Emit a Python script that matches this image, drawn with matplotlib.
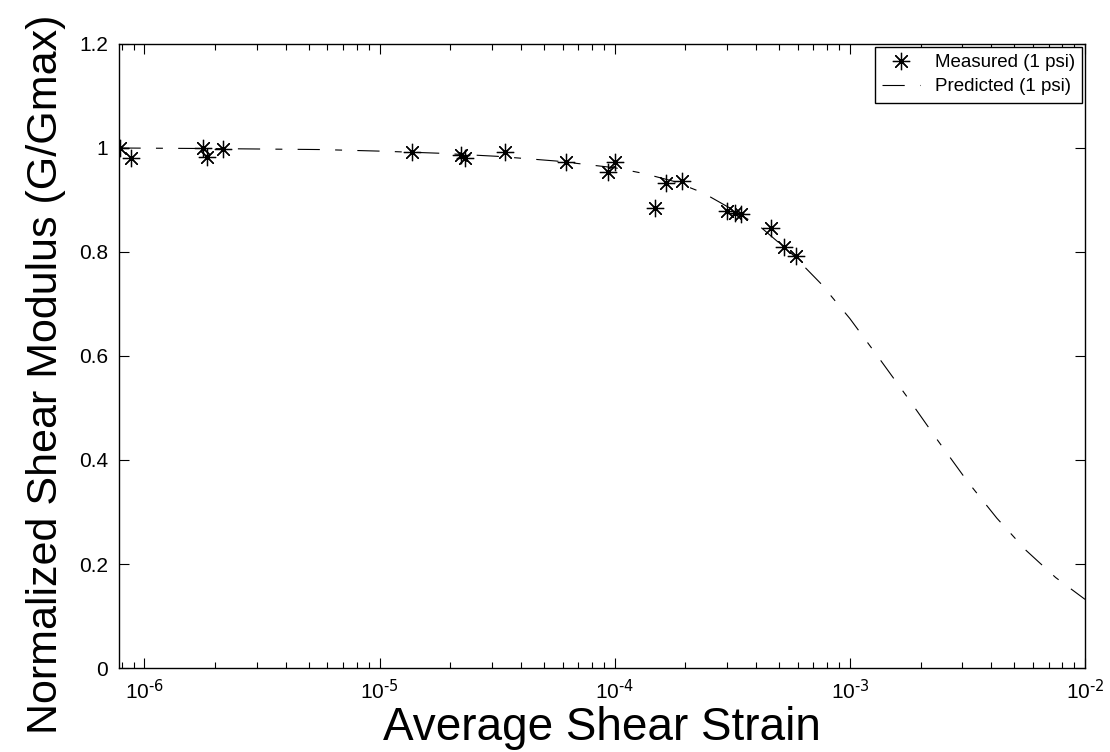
################################################################################
import numpy as np;
import matplotlib as mpl;
mpl.use('Agg');
import matplotlib.pyplot as plt;
from matplotlib.ticker import LogLocator, NullFormatter, FixedLocator;
################################################################################
# measured G/Gmax at 1 psi
meas_strain = [7.9e-7, 8.8e-7, 1.77e-6, 1.85e-6, 2.17e-6, 1.37e-5, 2.23e-5,
               2.30e-5, 3.43e-5, 6.18e-5, 9.4e-5, 1.0e-4, 1.49e-4, 1.66e-4,
               1.93e-4, 3.0e-4, 3.24e-4, 3.44e-4, 4.61e-4, 5.24e-4, 5.89e-4];
meas_ggmax = [1.000, 0.980, 1.000, 0.983, 0.998, 0.992, 0.987,
              0.981, 0.992, 0.973, 0.954, 0.973, 0.885, 0.933,
              0.937, 0.879, 0.875, 0.873, 0.846, 0.810, 0.792];
# predicted curve at 1 psi
pred_strain = [7.76e-7, 1.78e-6, 3.16e-6, 5.62e-6, 1.0e-5, 1.78e-5, 3.16e-5,
               5.62e-5, 1.0e-4, 1.33e-4, 1.78e-4, 2.37e-4, 3.16e-4, 4.22e-4,
               5.62e-4, 7.50e-4, 1.0e-3, 1.33e-3, 1.78e-3, 2.37e-3, 3.16e-3,
               4.22e-3, 5.62e-3, 7.50e-3, 1.0e-2];
pred_ggmax = [1.000, 0.999, 0.998, 0.997, 0.994, 0.990, 0.984,
              0.975, 0.962, 0.951, 0.936, 0.914, 0.882, 0.846,
              0.798, 0.740, 0.672, 0.596, 0.517, 0.437, 0.359,
              0.288, 0.226, 0.174, 0.132];
xticks = [1e-6, 1e-5, 1e-4, 1e-3, 1e-2];
xticklabels = [r'$\mathregular{10^{\text{-6}}}$', r'$\mathregular{10^{\text{-5}}}$',
               r'$\mathregular{10^{\text{-4}}}$', r'$\mathregular{10^{\text{-3}}}$',
               r'$\mathregular{10^{\text{-2}}}$'];
yticks = [0, 0.2, 0.4, 0.6, 0.8, 1.0, 1.2];
yticklabels = ['0', '0.2', '0.4', '0.6', '0.8', '1', '1.2'];
################################################################################
plt.rcParams['font.family'] = ['Liberation Sans', 'DejaVu Sans'];
plt.rcParams['mathtext.default'] = 'regular';
plt.rcParams['lines.scale_dashes'] = False;
styles = {
    'meas': {
        'linestyle'      : 'none',
        'marker'         : (8, 2, 0),
        'markersize'     : 12.5,
        'markeredgewidth': 0.9,
        'color'          : 'black',
    },
    'pred': {
        'color'     : 'black',
        'linewidth' : 0.8,
        'dashes'    : (16, 11, 5, 11),
    },
};
################################################################################
fig = plt.figure(figsize=(11.1, 7.52), dpi=100);
ax = fig.add_axes([0.1072, 0.1117, 0.8703, 0.8298]);
ax.plot(meas_strain, meas_ggmax, label='Measured (1 psi)', **styles['meas']);
ax.plot(pred_strain, pred_ggmax, label='Predicted (1 psi)', **styles['pred']);
ax.set_xscale('log');
ax.set_xlim(7.8e-7, 1e-2);
ax.set_ylim(0, 1.2);
ax.xaxis.set_major_locator(FixedLocator(xticks));
ax.set_xticklabels(xticklabels);
ax.xaxis.set_minor_locator(LogLocator(base=10, subs=np.arange(2, 10)));
ax.xaxis.set_minor_formatter(NullFormatter());
ax.set_yticks(yticks);
ax.set_yticklabels(yticklabels);
ax.tick_params(which='both', direction='in', top=True, right=True,
               labelsize=15, width=0.8);
ax.tick_params(which='major', length=7, pad=8);
ax.tick_params(which='minor', length=4);
for sp in ax.spines.values():
    sp.set_linewidth(1.0);
ax.set_xlabel('Average Shear Strain', fontsize=33, labelpad=2);
ax.set_ylabel('Normalized Shear Modulus (G/Gmax)', fontsize=31);
# centre the long label on the figure so it stays inside
ax.yaxis.set_label_coords(-0.055, 0.47);
leg = ax.legend(loc='upper right', fontsize=13.5, frameon=True, fancybox=False,
                edgecolor='black', framealpha=1, borderaxespad=0.15,
                handlelength=2.0, borderpad=0.4, labelspacing=0.35);
leg.get_frame().set_linewidth(1.0);
fig.savefig('out.png', dpi=100);
